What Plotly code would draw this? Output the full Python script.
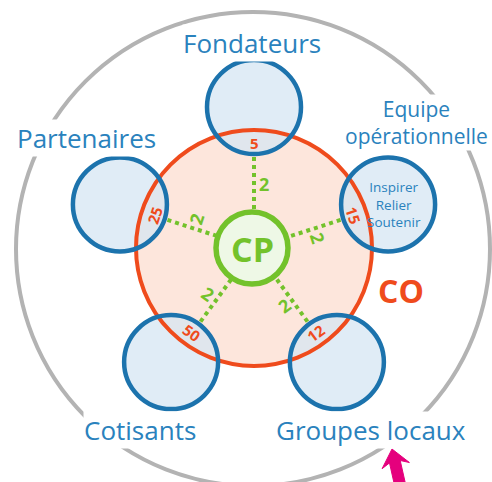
import math
import plotly.graph_objects as go

# ---- data ----
groups = ["Fondateurs", "Equipe opérationnelle", "Groupes locaux", "Cotisants", "Partenaires"]
co_seats = [5, 15, 12, 50, 25]
cp_seats = [2, 2, 2, 2, 2]
core_labels = ["CO", "CP"]
roles = ["Inspirer", "Relier", "Soutenir"]

# ---- styles ----
BLUE = "#1c73ad"
BLUE_TXT = "#2a82bd"
BLUE_FILL = "rgba(214,229,243,0.75)"
RED = "#ef4b1c"
PEACH = "#fde6dc"
GREEN = "#73c22b"
GREEN_FILL = "#eef8e6"
GRAY = "#b3b3b3"
MAGENTA = "#e5007d"
FONT = "Open Sans"

CX, CY = 254, 248
R_RING = 141
R_BLUE = 47
R_RED = 118
R_CP = 36
angles = [90 - 72 * i for i in range(len(groups))]

def pt(r, a):
    return CX + r * math.cos(math.radians(a)), CY - r * math.sin(math.radians(a))

shapes = []
def circle(cx, cy, r, line=None, width=0, fill=None, layer="below"):
    shapes.append(dict(type="circle", xref="x", yref="y", x0=cx - r, x1=cx + r,
                       y0=cy - r, y1=cy + r, layer=layer,
                       line=dict(color=line or "rgba(0,0,0,0)", width=width),
                       fillcolor=fill or "rgba(0,0,0,0)"))

circle(253, 249, 237, line=GRAY, width=4)
circle(CX, CY, R_RED, fill=PEACH)
for a in angles:
    bx, by = pt(R_RING, a)
    circle(bx, by, R_BLUE, fill=BLUE_FILL)
circle(CX, CY, R_RED, line=RED, width=4)
for a in angles:
    bx, by = pt(R_RING, a)
    circle(bx, by, R_BLUE, line=BLUE, width=4.5)
circle(CX - 2, CY, R_CP, line=GREEN, width=5.5, fill=GREEN_FILL, layer="above")

# magenta pointer arrow (decoration)
tip = (392, 449)
ux, uy = 7, 31
L = math.hypot(ux, uy)
ux, uy = ux / L, uy / L
nx, ny = uy, -ux
def P(a, b):
    return (tip[0] + a * ux + b * nx, tip[1] + a * uy + b * ny)
pts = [P(0, 0), P(17, 14), P(13, 5.5), P(45, 5.5), P(45, -5.5), P(13, -5.5), P(17, -14)]
path = "M " + " L ".join("%.1f,%.1f" % p for p in pts) + " Z"
shapes.append(dict(type="path", xref="x", yref="y", path=path, fillcolor=MAGENTA,
                   line=dict(color=MAGENTA, width=1), layer="above"))

fig = go.Figure()
# spokes
for a in angles:
    x0, y0 = pt(39, a)
    x1, y1 = pt(92, a)
    fig.add_trace(go.Scatter(x=[x0, x1], y=[y0, y1], mode="lines",
                             line=dict(color=GREEN, width=4, dash="4px,4px"),
                             hoverinfo="skip", showlegend=False))

annotations = []
def txt(x, y, s, size, color, angle=0, bold=False, bg=None):
    annotations.append(dict(x=x, y=y, xref="x", yref="y", text=("<b>%s</b>" % s) if bold else s,
                            showarrow=False, textangle=angle,
                            font=dict(family=FONT, size=size, color=color),
                            bgcolor=bg, borderpad=0))

def readable(angle):
    a = 90 - angle
    while a > 90:
        a -= 180
    while a < -90:
        a += 180
    return a

for a, v, l in zip(angles, co_seats, cp_seats):
    x, y = pt(105, a)
    txt(x, y, str(v), 15, RED, readable(a), bold=True)
    mx, my = pt(64, a)
    ox, oy = math.cos(math.radians(a - 90)) * 10, -math.sin(math.radians(a - 90)) * 10
    txt(mx + ox, my + oy, str(l), 18, GREEN, readable(a), bold=True)

label_pos = {
    "Fondateurs": (252, 43, ["Fondateurs"], 26),
    "Equipe opérationnelle": (416, 122, ["Equipe", "opérationnelle"], 21),
    "Groupes locaux": (371, 430, ["Groupes locaux"], 26),
    "Cotisants": (140, 430, ["Cotisants"], 26),
    "Partenaires": (86, 138, ["Partenaires"], 26),
}
for g in groups:
    x, y, lines, fs = label_pos[g]
    s = "<br>".join(lines)
    annotations.append(dict(x=x, y=y, xref="x", yref="y", text=s, showarrow=False,
                            font=dict(family=FONT, size=fs, color=BLUE_TXT),
                            bgcolor="white", borderpad=0))

# roles inside Equipe circle
ex, ey = pt(R_RING, angles[1])
annotations.append(dict(x=ex + 6, y=ey, xref="x", yref="y", text="<br>".join(roles), showarrow=False,
                        font=dict(family=FONT, size=13.5, color=BLUE_TXT)))

txt(401, 290, core_labels[0], 32, RED, bold=True)
txt(CX - 2, CY + 1, core_labels[1], 34, GREEN, bold=True)

fig.update_layout(
    width=492, height=482, margin=dict(l=0, r=0, t=0, b=0),
    paper_bgcolor="white", plot_bgcolor="white",
    xaxis=dict(range=[0, 492], visible=False, fixedrange=True),
    yaxis=dict(range=[482, 0], visible=False, fixedrange=True),
    shapes=shapes, annotations=annotations, showlegend=False,
)
fig.write_html("out.html", config={"displayModeBar": False},
               post_script="document.body.style.margin='0';document.body.style.overflow='hidden';")
